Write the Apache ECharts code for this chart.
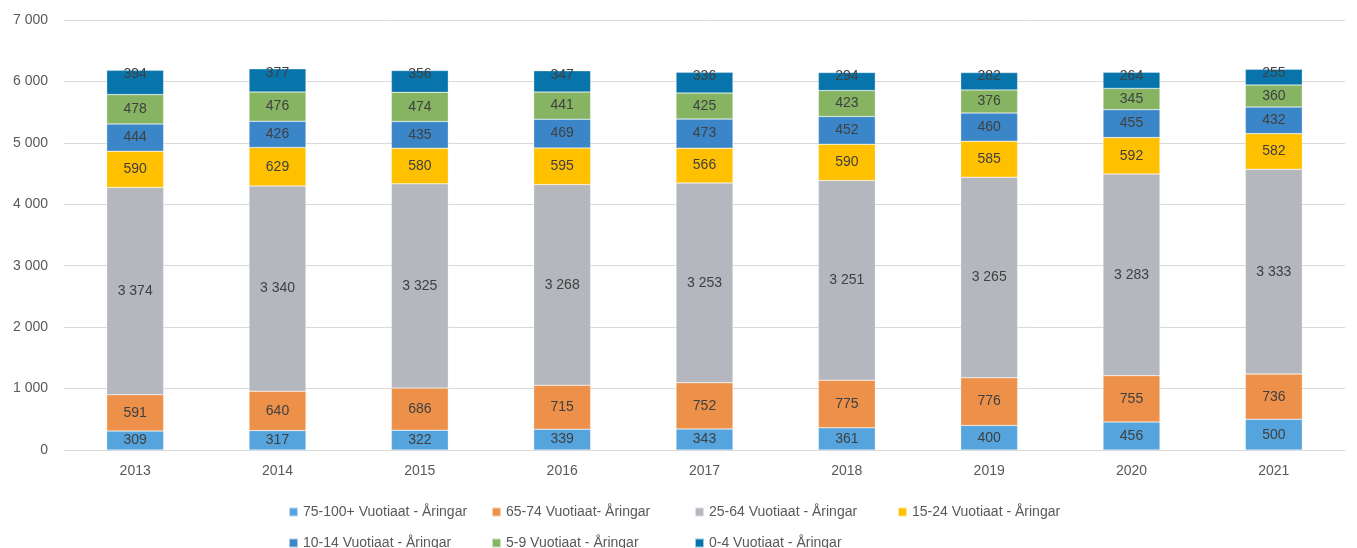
<!DOCTYPE html>
<html>
<head>
<meta charset="utf-8">
<script src="https://cdn.jsdelivr.net/npm/echarts@6/dist/echarts.min.js"></script>
<style>
  html, body { margin: 0; padding: 0; background: #fff; }
  #chart { width: 1357px; height: 548px; }
</style>
</head>
<body>
<div id="chart"></div>
<script>
const years = ['2013', '2014', '2015', '2016', '2017', '2018', '2019', '2020', '2021'];
const age75 = [309, 317, 322, 339, 343, 361, 400, 456, 500];
const age65 = [591, 640, 686, 715, 752, 775, 776, 755, 736];
const age25 = [3374, 3340, 3325, 3268, 3253, 3251, 3265, 3283, 3333];
const age15 = [590, 629, 580, 595, 566, 590, 585, 592, 582];
const age10 = [444, 426, 435, 469, 473, 452, 460, 455, 432];
const age5 = [478, 476, 474, 441, 425, 423, 376, 345, 360];
const age0 = [394, 377, 356, 347, 336, 294, 282, 264, 255];

const names = ['75-100+ Vuotiaat - Åringar', '65-74 Vuotiaat- Åringar', '25-64 Vuotiaat - Åringar',
  '15-24 Vuotiaat - Åringar', '10-14 Vuotiaat - Åringar', '5-9 Vuotiaat - Åringar', '0-4 Vuotiaat - Åringar'];
const colors = ['#55A4DD', '#ED914A', '#B4B7BD', '#FFC000', '#3A86C8', '#86B462', '#0775AB'];
const values = [age75, age65, age25, age15, age10, age5, age0];

const font = 'Liberation Sans';
function fmt(v) {
  return String(v).replace(/\B(?=(\d{3})+(?!\d))/g, ' ');
}

const series = names.map((n, i) => ({
  name: n,
  type: 'bar',
  stack: 'total',
  barWidth: '40%',
  data: values[i],
  itemStyle: { color: colors[i], borderColor: 'rgba(255,255,255,0.6)', borderWidth: 0.5 },
  label: {
    show: true,
    position: i === 6 ? 'insideTop' : 'inside',
    distance: i === 6 ? -3 : 5,
    color: '#404040',
    fontSize: 14,
    fontFamily: font,
    formatter: p => fmt(p.value)
  }
}));

// one legend per entry, laid out in 4 columns x 2 rows like the original
const legends = names.map((n, i) => ({
  left: 283 + (i % 4) * 203,
  top: i < 4 ? 500 : 531,
  itemWidth: 9,
  itemHeight: 9,
  itemGap: 0,
  icon: 'rect',
  textStyle: { color: '#595959', fontSize: 14, fontFamily: font },
  data: [n]
}));

const chart = echarts.init(document.getElementById('chart'));
chart.setOption({
  animation: false,
  color: colors,
  grid: { left: 64, right: 12, top: 20, bottom: 98, containLabel: false },
  xAxis: {
    type: 'category',
    data: years,
    axisLine: { lineStyle: { color: '#d9d9d9' } },
    axisTick: { show: false },
    axisLabel: { color: '#595959', fontSize: 14, fontFamily: font, margin: 14 }
  },
  yAxis: {
    type: 'value',
    min: 0,
    max: 7000,
    interval: 1000,
    axisLine: { show: false },
    axisTick: { show: false },
    splitLine: { lineStyle: { color: '#d9d9d9' } },
    axisLabel: { color: '#595959', fontSize: 14, fontFamily: font, margin: 16, formatter: v => fmt(v) }
  },
  legend: legends,
  series: series
});
</script>
</body>
</html>
